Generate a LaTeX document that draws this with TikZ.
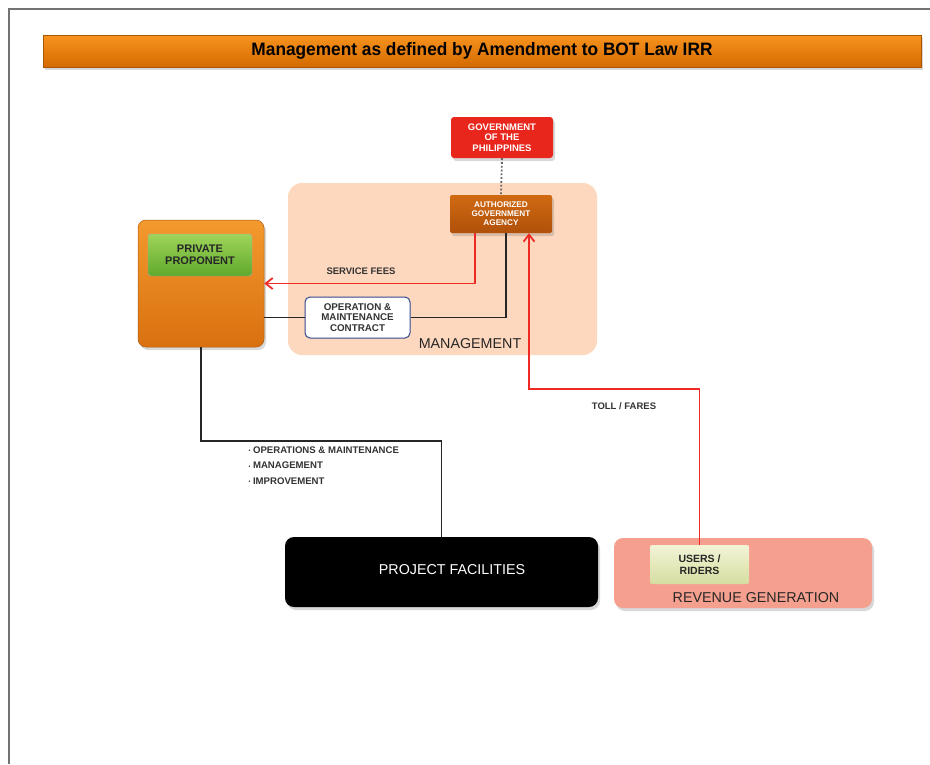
\documentclass[tikz,border=0pt]{standalone}
\usepackage{fontspec}
\setmainfont{Liberation Sans}
\usetikzlibrary{arrows.meta,calc,shadows}
\definecolor{titleTop}{HTML}{F7931E}
\definecolor{titleBot}{HTML}{D46A00}
\definecolor{mgmt}{HTML}{FDD8BE}
\definecolor{govred}{HTML}{E8261C}
\definecolor{agTop}{HTML}{D06A12}
\definecolor{agBot}{HTML}{B0500A}
\definecolor{propTop}{HTML}{F39A2E}
\definecolor{propBot}{HTML}{D9700F}
\definecolor{grTop}{HTML}{9FD45A}
\definecolor{grBot}{HTML}{5FA92C}
\definecolor{revbg}{HTML}{F5A08F}
\definecolor{usTop}{HTML}{F2F4D6}
\definecolor{usBot}{HTML}{D6DDA0}
\definecolor{arrred}{HTML}{EE2A24}
\definecolor{omblue}{HTML}{34488C}
\newcommand{\mybul}{\raisebox{0.5pt}{\scalebox{0.55}{\textbullet}}\ }
\tikzset{
  smalllbl/.style={font=\fontsize{9.5}{10.7}\selectfont\bfseries, text=black!80, align=center},
  whitelbl/.style={font=\fontsize{9.5}{10.5}\selectfont\bfseries, text=white, align=center},
  biglbl/.style={font=\fontsize{14.3}{16}\selectfont},
  softshadow/.style={drop shadow={shadow xshift=2pt, shadow yshift=-3pt, opacity=0.25, fill=black!60}},
  redarrow/.style={draw=arrred, line width=1.8pt, -{Straight Barb[length=7pt,width=11pt]}},
  blackline/.style={draw=black!85, line width=1.4pt},
}
\begin{document}
\begin{tikzpicture}[x=1pt,y=-1pt]
\useasboundingbox (0,0) rectangle (930,764);
\fill[white] (0,0) rectangle (930,764);
% frame
\draw[black!55, line width=2pt] (9,764) -- (9,9) -- (930,9);
% title
\node[minimum width=878pt, minimum height=32pt, inner sep=0pt, top color=titleTop, bottom color=titleBot, draw=titleBot!80!black, line width=0.4pt, softshadow] (title) at (482,51) {};
\node[inner sep=0pt] (titletext) at (482,51) {\resizebox{461pt}{13pt}{\bfseries Management as defined by Amendment to BOT Law IRR}};
% management region
\node[minimum width=309pt, minimum height=172pt, fill=mgmt, rounded corners=14pt, inner sep=0pt] (mgmt) at (442.5,269) {};
\node[biglbl, text=black!85, anchor=center] (mgmtlbl) at (470,344) {MANAGEMENT};
% government
\node[minimum width=102pt, minimum height=41pt, fill=govred, rounded corners=3pt, inner sep=0pt, whitelbl, softshadow] (gov) at (502,137.5) {GOVERNMENT\\OF THE\\PHILIPPINES};
% agency
\node[minimum width=102pt, minimum height=38pt, top color=agTop, bottom color=agBot, rounded corners=2pt, inner sep=0pt, whitelbl, font=\fontsize{8.2}{9}\selectfont\bfseries, softshadow] (agency) at (501,214) {AUTHORIZED\\GOVERNMENT\\AGENCY};
\draw[black!60, line width=1.8pt, dotted] (gov.south) -- (agency.north);
% proponent
\node[minimum width=126pt, minimum height=127pt, top color=propTop, bottom color=propBot, draw=propBot!80!black, line width=0.5pt, rounded corners=8pt, inner sep=0pt, softshadow] (prop) at (201,283.5) {};
\node[minimum width=104pt, minimum height=42pt, top color=grTop, bottom color=grBot, draw=black!30, line width=0.4pt, rounded corners=3pt, inner sep=0pt, smalllbl, font=\fontsize{11}{11.5}\selectfont\bfseries, text=black!85] (green) at (200,255) {PRIVATE\\PROPONENT};
% O&M contract
\node[minimum width=105pt, minimum height=41pt, fill=white, draw=omblue, line width=1pt, rounded corners=5pt, inner sep=0pt, smalllbl, font=\fontsize{9.8}{10.7}\selectfont\bfseries] (om) at (357.5,317.5) {OPERATION \&\\MAINTENANCE\\CONTRACT};
% project facilities
\node[minimum width=313pt, minimum height=70pt, fill=black, rounded corners=9pt, inner sep=0pt, softshadow] (proj) at (441.5,572) {};
\node[biglbl, text=white] (projlbl) at (452,570) {PROJECT FACILITIES};
% revenue generation
\node[minimum width=258pt, minimum height=70pt, fill=revbg, rounded corners=9pt, inner sep=0pt, softshadow] (rev) at (743,573) {};
\node[biglbl, text=black!85] (revlbl) at (756,598) {REVENUE GENERATION};
\node[minimum width=99pt, minimum height=39pt, top color=usTop, bottom color=usBot, rounded corners=2pt, inner sep=0pt, smalllbl, font=\fontsize{10.5}{11.5}\selectfont\bfseries, text=black!85] (users) at (699.5,564.5) {USERS /\\RIDERS};
% connectors
\coordinate (sfturn) at ([xshift=-26pt]agency.south |- prop.east);
\draw[redarrow] ([xshift=-26pt]agency.south) -- (sfturn) -- (prop.east);
\node[smalllbl] (sflbl) at (361,271) {SERVICE FEES};
\draw[blackline] (prop.east |- om.west) -- (om.west);
\draw[blackline] (om.east) -| ([xshift=5pt]agency.south);
\coordinate (tollturn) at (users.north |- 0,389);
\draw[redarrow] (users.north) -- (tollturn) -| ([xshift=28pt]agency.south);
\node[smalllbl] (tolllbl) at (624,406) {TOLL / FARES};
\coordinate (pturn) at (prop.south |- 0,441);
\draw[blackline] (prop.south) -- (pturn) -| (proj.north);
\node[smalllbl, align=left, anchor=north west, font=\fontsize{9.6}{15.5}\selectfont\bfseries] (bullets) at (245,443) {\mybul OPERATIONS \& MAINTENANCE\\\mybul MANAGEMENT\\\mybul IMPROVEMENT};
\end{tikzpicture}
\end{document}
